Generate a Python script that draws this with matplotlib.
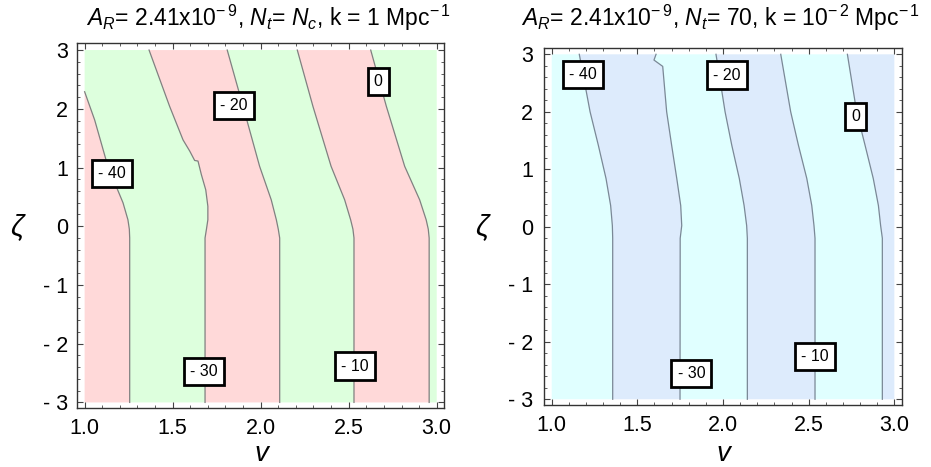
import numpy as np
import matplotlib
matplotlib.use("Agg")
import matplotlib.pyplot as plt
from matplotlib.ticker import MultipleLocator

plt.rcParams['font.family'] = ['Liberation Sans', 'DejaVu Sans']
plt.rcParams['mathtext.fontset'] = 'custom'
plt.rcParams['mathtext.rm'] = 'Liberation Sans'
plt.rcParams['mathtext.it'] = 'Liberation Sans:italic'

levels = [-40, -30, -20, -10, 0]

# left panel contour lines, (zeta, v) read top to bottom
left_z = {
    -40: [2.29, 1.81, 1.02, 0.40, 0.11, -0.05, -0.2, -3],
    -30: [3, 2.04, 1.47, 1.28, 1.12, 1.11, 0.88, 0.62, 0.34, 0.11, -0.05, -0.2, -3],
    -20: [3, 2.04, 1.02, 0.45, 0.11, -0.05, -0.2, -3],
    -10: [3, 2.04, 1.02, 0.45, 0.11, -0.05, -0.2, -3],
    0:   [3, 2.04, 1.02, 0.45, 0.11, -0.05, -0.2, -3],
}
left_v = {
    -40: [1.0, 1.057, 1.132, 1.218, 1.246, 1.254, 1.256, 1.256],
    -30: [1.366, 1.483, 1.559, 1.597, 1.625, 1.644, 1.663, 1.688, 1.70, 1.70, 1.692, 1.684, 1.684],
    -20: [1.81, 1.90, 1.994, 2.06, 2.089, 2.10, 2.108, 2.108],
    -10: [2.208, 2.297, 2.40, 2.477, 2.511, 2.524, 2.53, 2.53],
    0:   [2.625, 2.714, 2.818, 2.903, 2.94, 2.952, 2.957, 2.957],
}
# right panel
right_z = {
    -40: [3, 2.0, 1.42, 0.84, 0.37, 0.02, -0.2, -3],
    -30: [3, 2.90, 2.79, 2.0, 1.42, 0.84, 0.37, 0.02, -0.2, -3],
    -20: [3, 2.0, 1.42, 0.84, 0.37, 0.02, -0.2, -3],
    -10: [3, 2.0, 1.42, 0.84, 0.37, 0.02, -0.2, -3],
    0:   [3, 2.0, 1.42, 0.84, 0.37, 0.02, -0.2, -3],
}
right_v = {
    -40: [1.161, 1.224, 1.272, 1.317, 1.344, 1.354, 1.356, 1.356],
    -30: [1.609, 1.597, 1.648, 1.671, 1.70, 1.73, 1.753, 1.759, 1.75, 1.749],
    -20: [1.959, 2.012, 2.051, 2.095, 2.123, 2.138, 2.142, 2.142],
    -10: [2.337, 2.395, 2.44, 2.489, 2.518, 2.531, 2.537, 2.537],
    0:   [2.726, 2.78, 2.829, 2.877, 2.907, 2.92, 2.93, 2.93],
}

# label positions (v, zeta)
left_lab = {-40: (1.157, 0.895), -30: (1.678, -2.48), -20: (1.847, 2.06),
            -10: (2.536, -2.38), 0: (2.668, 2.46)}
right_lab = {-40: (1.183, 2.65), -30: (1.815, -2.55), -20: (2.024, 2.64),
             -10: (2.537, -2.25), 0: (2.775, 1.92)}

left_title = r"$A_R$= 2.41x10$^{-\,9}$, $N_t$= $N_c$, k = 1 Mpc$^{-\,1}$"
right_title = r"$A_R$= 2.41x10$^{-\,9}$, $N_t$= 70, k = 10$^{-\,2}$ Mpc$^{-\,1}$"

xticks = [1.0, 1.5, 2.0, 2.5, 3.0]
xticklabels = ["1.0", "1.5", "2.0", "2.5", "3.0"]
yticks = [-3, -2, -1, 0, 1, 2, 3]
yticklabels = ["- 3", "- 2", "- 1", "0", "1", "2", "3"]


def fmt(l):
    return "0" if l == 0 else "- %d" % abs(l)


def panel(ax, zd, vd, labs, colors, lcolor, ypad):
    lines = [([1.0, 1.0], [3, -3])] + [(vd[l], zd[l]) for l in levels] + [([3.0, 3.0], [3, -3])]
    for i in range(len(lines) - 1):
        lv, lz = lines[i]
        rv, rz = lines[i + 1]
        pv = list(rv) + list(lv[::-1])
        pz = list(rz) + list(lz[::-1])
        if lz[0] < 3:
            pv.append(1.0)
            pz.append(3.0)
        ax.fill(pv, pz, color=colors[i % 2], lw=0)
    for l in levels:
        ax.plot(vd[l], zd[l], color=lcolor, lw=0.9)
    for l in levels:
        x, y = labs[l]
        ax.text(x, y, fmt(l), fontsize=11.5, ha='center', va='center',
                bbox=dict(boxstyle='square,pad=0.38', fc='white', ec='black', lw=2))
    ax.set_xlim(0.955, 3.043)
    ax.set_ylim(-3.1, 3.115)
    ax.set_xticks(xticks)
    ax.set_xticklabels(xticklabels)
    ax.set_yticks(yticks)
    ax.set_yticklabels(yticklabels)
    ax.xaxis.set_minor_locator(MultipleLocator(0.1))
    ax.yaxis.set_minor_locator(MultipleLocator(0.2))
    ax.tick_params(which='both', direction='in', top=True, right=True, labelsize=15.5, color='#444444')
    ax.tick_params(axis='x', pad=7)
    ax.tick_params(axis='y', pad=ypad)
    ax.tick_params(which='major', length=4, width=0.8)
    ax.tick_params(which='minor', length=2.5, width=0.6)
    for s in ax.spines.values():
        s.set_color('#333333')
        s.set_linewidth(1.0)


W, H = 931, 467
fig = plt.figure(figsize=(W / 100, H / 100), dpi=100)
ax1 = fig.add_axes([76.7 / W, 1 - 408.3 / H, (444.3 - 76.7) / W, (408.3 - 43.3) / H])
ax2 = fig.add_axes([544 / W, 1 - 405 / H, (901.7 - 544) / W, (405 - 47.7) / H])

panel(ax1, left_z, left_v, left_lab, ['#FFD9D9', '#DDFFDD'], '#808080', 6)
panel(ax2, right_z, right_v, right_lab, ['#E0FFFF', '#DDEBFC'], '#7a8896', 8)

fig.text(268 / W, 1 - 18 / H, left_title, fontsize=16.5, ha='center', va='center')
fig.text(721 / W, 1 - 18 / H, right_title, fontsize=16.5, ha='center', va='center')
fig.text(261 / W, 1 - 454 / H, "v", fontsize=20, style='italic', ha='center', va='center')
fig.text(723 / W, 1 - 454 / H, "v", fontsize=20, style='italic', ha='center', va='center')
fig.text(17 / W, 1 - 227 / H, "\u03b6", fontsize=21, style='italic', ha='center', va='center')
fig.text(482 / W, 1 - 227 / H, "\u03b6", fontsize=21, style='italic', ha='center', va='center')

fig.savefig("out.png", dpi=100)
